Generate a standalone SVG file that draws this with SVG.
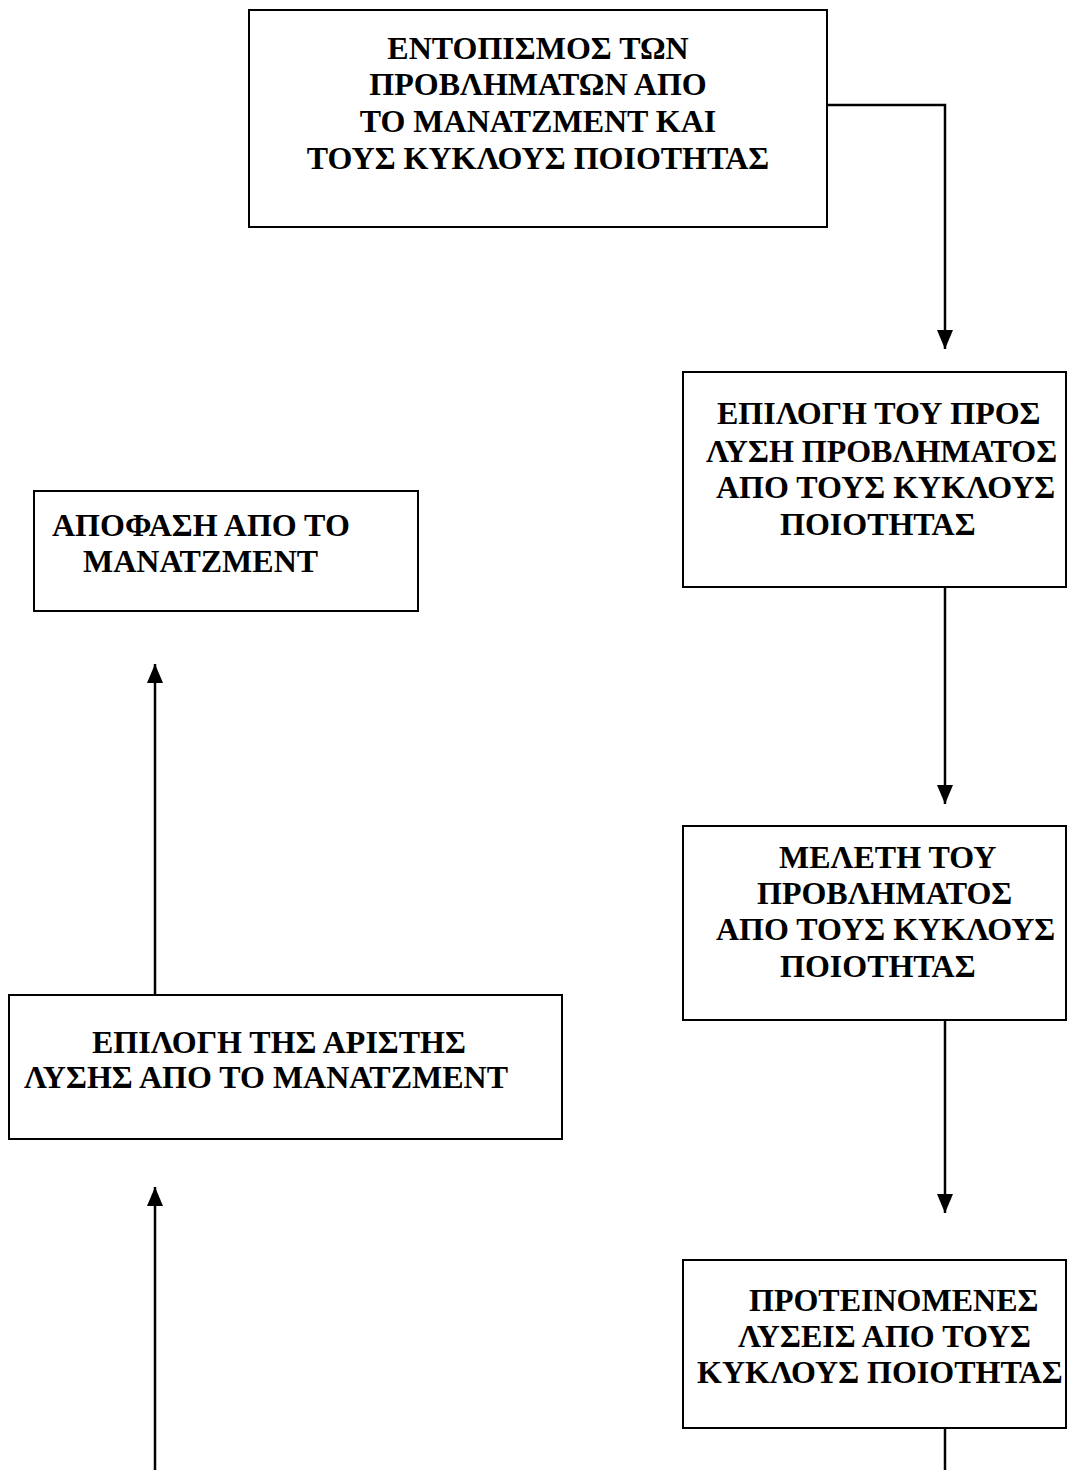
<svg xmlns="http://www.w3.org/2000/svg" width="1071" height="1470" viewBox="0 0 1071 1470">
<style>
.box{fill:#fff;stroke:#000;stroke-width:2}
.t{font-family:"Liberation Serif","Times New Roman",serif;font-weight:bold;font-size:32px;fill:#000}
.c{fill:none;stroke:#000;stroke-width:2.5}
</style>
<defs>
<marker id="ah" markerUnits="userSpaceOnUse" markerWidth="19" markerHeight="16" refX="19" refY="8" orient="auto" viewBox="0 0 19 16">
<polygon points="0,0 19,8 0,16" fill="#000"/>
</marker>
</defs>
<rect width="1071" height="1470" fill="#fff"/>
<g id="connectors">
<polyline class="c" points="827,105 945,105 945,349" marker-end="url(#ah)"/>
<line class="c" x1="945" y1="587" x2="945" y2="804" marker-end="url(#ah)"/>
<line class="c" x1="945" y1="1020" x2="945" y2="1213" marker-end="url(#ah)"/>
<line class="c" x1="945" y1="1428" x2="945" y2="1470"/>
<line class="c" x1="155" y1="1470" x2="155" y2="1187" marker-end="url(#ah)"/>
<line class="c" x1="155" y1="995" x2="155" y2="664" marker-end="url(#ah)"/>
</g>
<g id="n1">
<rect class="box" x="249" y="10" width="578" height="217"/>
<text class="t" x="538" y="59" text-anchor="middle">ΕΝΤΟΠΙΣΜΟΣ ΤΩΝ</text>
<text class="t" x="538" y="95" text-anchor="middle">ΠΡΟΒΛΗΜΑΤΩΝ ΑΠΟ</text>
<text class="t" x="538" y="132" text-anchor="middle">ΤΟ ΜΑΝΑΤΖΜΕΝΤ ΚΑΙ</text>
<text class="t" x="538" y="169" text-anchor="middle">ΤΟΥΣ ΚΥΚΛΟΥΣ ΠΟΙΟΤΗΤΑΣ</text>
</g>
<g id="n2">
<rect class="box" x="683" y="372" width="383" height="215"/>
<text class="t" x="717" y="424">ΕΠΙΛΟΓΗ ΤΟΥ ΠΡΟΣ</text>
<text class="t" x="706" y="462">ΛΥΣΗ ΠΡΟΒΛΗΜΑΤΟΣ</text>
<text class="t" x="716" y="498">ΑΠΟ ΤΟΥΣ ΚΥΚΛΟΥΣ</text>
<text class="t" x="780" y="535">ΠΟΙΟΤΗΤΑΣ</text>
</g>
<g id="n3">
<rect class="box" x="683" y="826" width="383" height="194"/>
<text class="t" x="779" y="868">ΜΕΛΕΤΗ ΤΟΥ</text>
<text class="t" x="757" y="904">ΠΡΟΒΛΗΜΑΤΟΣ</text>
<text class="t" x="716" y="940">ΑΠΟ ΤΟΥΣ ΚΥΚΛΟΥΣ</text>
<text class="t" x="780" y="977">ΠΟΙΟΤΗΤΑΣ</text>
</g>
<g id="n4">
<rect class="box" x="683" y="1260" width="383" height="168"/>
<text class="t" x="749" y="1311">ΠΡΟΤΕΙΝΟΜΕΝΕΣ</text>
<text class="t" x="738" y="1347">ΛΥΣΕΙΣ ΑΠΟ ΤΟΥΣ</text>
<text class="t" x="697" y="1383">ΚΥΚΛΟΥΣ ΠΟΙΟΤΗΤΑΣ</text>
</g>
<g id="n5">
<rect class="box" x="9" y="995" width="553" height="144"/>
<text class="t" x="92" y="1053">ΕΠΙΛΟΓΗ ΤΗΣ ΑΡΙΣΤΗΣ</text>
<text class="t" x="24" y="1088">ΛΥΣΗΣ ΑΠΟ ΤΟ ΜΑΝΑΤΖΜΕΝΤ</text>
</g>
<g id="n6">
<rect class="box" x="34" y="491" width="384" height="120"/>
<text class="t" x="52" y="536">ΑΠΟΦΑΣΗ ΑΠΟ ΤΟ</text>
<text class="t" x="83" y="572">ΜΑΝΑΤΖΜΕΝΤ</text>
</g>
</svg>
